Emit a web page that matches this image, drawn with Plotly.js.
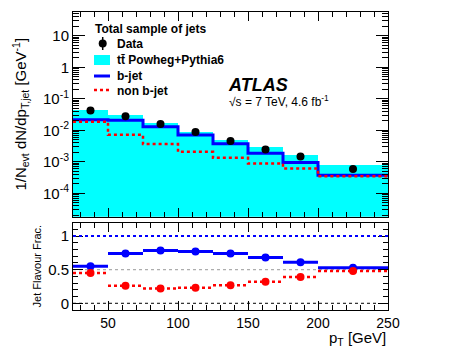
<!DOCTYPE html>
<html>
<head>
<meta charset="utf-8">
<script src="https://cdn.plot.ly/plotly-3.0.1.min.js"></script>
<style>body{margin:0;} #plot{width:456px;height:354px;}</style>
</head>
<body>
<div id="plot"></div>
<script>
// pT bins [GeV]
var binEdges = [25, 50, 75, 100, 125, 150, 175, 200, 250];
var binCenters = [37.5, 62.5, 87.5, 112.5, 137.5, 162.5, 187.5, 225];
var binWidths = [25, 25, 25, 25, 25, 25, 25, 50];

// top panel: 1/N_evt dN/dpT,jet
var dataVals = [0.043, 0.028, 0.016, 0.0089, 0.0046, 0.0025, 0.0015, 0.0006];
var mcTotal = [0.043, 0.030, 0.017, 0.0090, 0.0050, 0.0029, 0.0016, 0.0008];
var bJet = [0.022, 0.021, 0.013, 0.0071, 0.0038, 0.0019, 0.00095, 0.00038];
var nonBJet = [0.019, 0.0073, 0.0037, 0.0021, 0.00135, 0.00089, 0.00062, 0.00035];

// bottom panel: jet flavour fractions
var bFrac = [0.55, 0.74, 0.785, 0.77, 0.74, 0.68, 0.61, 0.53];
var nonBFrac = [0.45, 0.26, 0.22, 0.23, 0.27, 0.32, 0.39, 0.48];

var yTickVals = [1e-4, 1e-3, 1e-2, 1e-1, 1, 10];
var yTickText = ['10<sup>-4</sup>', '10<sup>-3</sup>', '10<sup>-2</sup>', '10<sup>-1</sup>', '1', '10'];

var legendLabels = ['Data', 'tt\u0304 Powheg+Pythia6', 'b-jet', 'non b-jet'];

var FONT = 'Liberation Sans, Arial, Helvetica, sans-serif';

// step line: repeat last value so the last bin is drawn to the edge
function stepY(arr) { return arr.concat([arr[arr.length - 1]]); }

// one horizontal segment per bin, separated with nulls
function segX() {
    var xs = [];
    for (var i = 0; i < binCenters.length; i++) xs.push(binEdges[i], binEdges[i + 1], null);
    return xs;
}
function segY(arr) {
    var ys = [];
    arr.forEach(function (v) { ys.push(v, v, null); });
    return ys;
}

// pixel -> paper coords (plot area 73..388 x 12..310)
function px(x) { return (x - 73) / 315; }
function py(y) { return (310 - y) / 298; }

var mcTrace = {
    x: binCenters, y: mcTotal, width: binWidths, type: 'bar',
    xaxis: 'x2', yaxis: 'y', showlegend: false,
    marker: {color: '#00FFFF', line: {width: 0}}
};
var bTrace = {
    x: binEdges, y: stepY(bJet), type: 'scatter', mode: 'lines',
    xaxis: 'x2', yaxis: 'y', showlegend: false,
    line: {color: '#0000FF', width: 3, shape: 'hv'}
};
var nonBTrace = {
    x: binEdges, y: stepY(nonBJet), type: 'scatter', mode: 'lines',
    xaxis: 'x2', yaxis: 'y', showlegend: false,
    line: {color: '#FF0000', width: 2.5, shape: 'hv', dash: 'dot'}
};
var dataTrace = {
    x: binCenters, y: dataVals, type: 'scatter', mode: 'markers',
    xaxis: 'x2', yaxis: 'y', showlegend: false,
    marker: {color: 'black', size: 8}
};

// bottom panel
var bFracLine = {
    x: segX(), y: segY(bFrac), type: 'scatter', mode: 'lines',
    xaxis: 'x', yaxis: 'y2', showlegend: false,
    line: {color: '#0000FF', width: 3}
};
var nonBFracLine = {
    x: segX(), y: segY(nonBFrac), type: 'scatter', mode: 'lines',
    xaxis: 'x', yaxis: 'y2', showlegend: false,
    line: {color: '#FF0000', width: 2.5, dash: 'dot'}
};
var bFracPts = {
    x: binCenters, y: bFrac, type: 'scatter', mode: 'markers',
    xaxis: 'x', yaxis: 'y2', showlegend: false,
    marker: {color: '#0000FF', size: 8}
};
var nonBFracPts = {
    x: binCenters, y: nonBFrac, type: 'scatter', mode: 'markers',
    xaxis: 'x', yaxis: 'y2', showlegend: false,
    marker: {color: '#FF0000', size: 8}
};

var data = [mcTrace, bTrace, nonBTrace, dataTrace, bFracLine, nonBFracLine, bFracPts, nonBFracPts];

var axisStyle = {
    showline: true, linecolor: 'black', linewidth: 1, mirror: 'allticks',
    ticks: 'inside', ticklen: 9, tickcolor: 'black', showgrid: false, zeroline: false,
    tickfont: {family: FONT, size: 15, color: 'black'}
};

// hand-drawn legend (ROOT style, tight spacing)
var legendY = [43.5, 60, 76, 90.5];
var legendShapes = [
    {type: 'line', xref: 'paper', yref: 'paper', x0: px(102.7), x1: px(102.7), y0: py(37), y1: py(50),
     line: {color: 'black', width: 1.5}},
    {type: 'circle', xref: 'paper', yref: 'paper', x0: px(98.7), x1: px(106.7), y0: py(39.5), y1: py(47.5),
     fillcolor: 'black', line: {color: 'black', width: 0}},
    {type: 'rect', xref: 'paper', yref: 'paper', x0: px(94), x1: px(110), y0: py(55), y1: py(65),
     fillcolor: '#00FFFF', line: {width: 0}},
    {type: 'line', xref: 'paper', yref: 'paper', x0: px(94), x1: px(110), y0: py(76), y1: py(76),
     line: {color: '#0000FF', width: 3}},
    {type: 'line', xref: 'paper', yref: 'paper', x0: px(94), x1: px(110), y0: py(90), y1: py(90),
     line: {color: '#FF0000', width: 2.5, dash: 'dot'}}
];
var legendText = legendLabels.map(function (t, i) {
    return {text: t, xref: 'paper', yref: 'paper', x: px(115), y: py(legendY[i]),
            xanchor: 'left', yanchor: 'middle', showarrow: false,
            font: {family: FONT, size: 12, weight: 'bold'}};
});

var layout = {
    width: 456, height: 354,
    margin: {l: 73, r: 68, t: 12, b: 44},
    paper_bgcolor: 'white', plot_bgcolor: 'white',
    font: {family: FONT, color: 'black'},
    bargap: 0,
    showlegend: false,
    xaxis: Object.assign({}, axisStyle, {
        domain: [0, 1], anchor: 'y2', range: [25, 250],
        tickvals: [50, 100, 150, 200, 250],
        tickfont: {family: FONT, size: 14, color: 'black'},
        minor: {dtick: 10, tick0: 0, ticks: 'inside', ticklen: 5, tickcolor: 'black'}
    }),
    xaxis2: Object.assign({}, axisStyle, {
        domain: [0, 1], anchor: 'y', matches: 'x', showticklabels: false,
        tickvals: [50, 100, 150, 200, 250],
        minor: {dtick: 10, tick0: 0, ticks: 'inside', ticklen: 5, tickcolor: 'black'}
    }),
    yaxis: Object.assign({}, axisStyle, {
        domain: [0.313, 1], anchor: 'x2', type: 'log', range: [-4.74, 1.76],
        tickvals: yTickVals, ticktext: yTickText, ticklen: 12,
        minor: {dtick: 'D1', ticks: 'inside', ticklen: 6, tickcolor: 'black'}
    }),
    yaxis2: Object.assign({}, axisStyle, {
        domain: [0, 0.293], anchor: 'x', range: [-0.1, 1.2],
        tickvals: [0, 0.5, 1], ticktext: ['0', '0.5', '1'], ticklen: 10,
        minor: {dtick: 0.1, tick0: 0, ticks: 'inside', ticklen: 5, tickcolor: 'black'}
    }),
    shapes: [
        {type: 'line', xref: 'x', yref: 'y2', x0: 25, x1: 250, y0: 1, y1: 1,
         line: {color: '#0000FF', width: 2, dash: 'dot'}},
        {type: 'line', xref: 'x', yref: 'y2', x0: 25, x1: 250, y0: 0.5, y1: 0.5, layer: 'below',
         line: {color: '#999999', width: 1, dash: 'dot'}},
        {type: 'line', xref: 'x', yref: 'y2', x0: 25, x1: 243, y0: 0, y1: 0, layer: 'below',
         line: {color: 'black', width: 1, dash: 'dot'}}
    ].concat(legendShapes),
    annotations: [
        {text: 'Total sample of jets', xref: 'paper', yref: 'paper', x: px(93), y: py(29),
         xanchor: 'left', yanchor: 'middle', showarrow: false,
         font: {family: FONT, size: 12, weight: 'bold'}},
        {text: '<b><i>ATLAS</i></b>', xref: 'paper', yref: 'paper', x: 0.486, y: 0.755,
         xanchor: 'left', yanchor: 'middle', showarrow: false,
         font: {family: FONT, size: 18}},
        {text: '\u221As = 7 TeV, 4.6 fb<sup>-1</sup>', xref: 'paper', yref: 'paper', x: 0.49, y: 0.701,
         xanchor: 'left', yanchor: 'middle', showarrow: false,
         font: {family: FONT, size: 12}},
        {text: '1/N<sub>evt</sub> dN/dp<sub>T,jet</sub> [GeV<sup>-1</sup>]', xref: 'paper', yref: 'paper',
         x: -0.168, y: 0.656, xanchor: 'center', yanchor: 'middle', textangle: -90, showarrow: false,
         font: {family: FONT, size: 15}},
        {text: 'Jet Flavour Frac.', xref: 'paper', yref: 'paper',
         x: -0.114, y: 0.1465, xanchor: 'center', yanchor: 'middle', textangle: -90, showarrow: false,
         font: {family: FONT, size: 11}},
        {text: 'p<sub>T</sub> [GeV]', xref: 'paper', yref: 'paper',
         x: 1, y: py(338), xanchor: 'right', yanchor: 'middle', showarrow: false,
         font: {family: FONT, size: 15}}
    ].concat(legendText)
};

Plotly.newPlot('plot', data, layout, {displayModeBar: false, staticPlot: true});
</script>
</body>
</html>
